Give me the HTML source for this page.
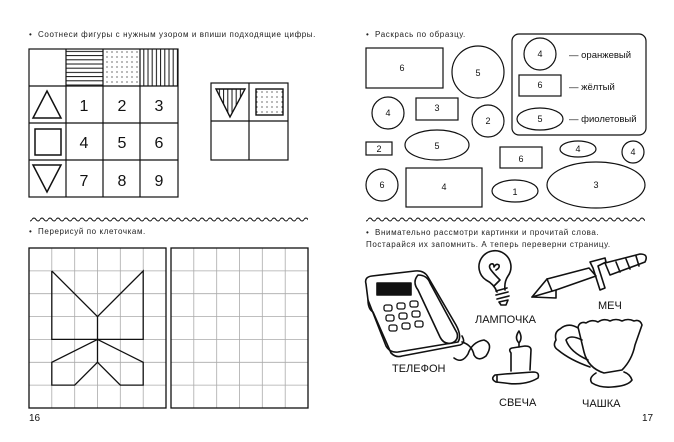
<!DOCTYPE html>
<html><head><meta charset="utf-8"><style>
html,body{margin:0;padding:0;background:#fff;}
svg{display:block;font-family:"Liberation Sans",sans-serif;}
.t{font-size:8px;letter-spacing:0.6px;fill:#222;}
.n{font-size:16px;fill:#111;text-anchor:middle;}
.s{font-size:9px;fill:#111;text-anchor:middle;}
.l{font-size:9.5px;fill:#111;}
.w{font-size:11px;fill:#111;}
</style></head><body>
<svg width="674" height="442" viewBox="0 0 674 442" xmlns="http://www.w3.org/2000/svg">
<defs>
<pattern id="wave" width="8" height="6" patternUnits="userSpaceOnUse"><path d="M0 3.5 Q2 0.5 4 3.5 T8 3.5" fill="none" stroke="#111" stroke-width="1.1"/></pattern>
<pattern id="hz" width="4" height="4.2" patternUnits="userSpaceOnUse"><line x1="0" y1="1" x2="4" y2="1" stroke="#111" stroke-width="1"/></pattern>
<pattern id="vt" width="4.2" height="4" patternUnits="userSpaceOnUse"><line x1="1" y1="0" x2="1" y2="4" stroke="#111" stroke-width="1"/></pattern>
<pattern id="dt" width="5" height="5" patternUnits="userSpaceOnUse"><circle cx="2" cy="2" r="0.6" fill="#111"/></pattern>
</defs>
<rect width="674" height="442" fill="#fff"/>

<text class="t" x="29" y="37">•&#160;&#160;Соотнеси фигуры с нужным узором и впиши подходящие цифры.</text>
<rect x="66" y="49" width="37" height="37" fill="url(#hz)"/>
<rect x="103" y="49" width="37" height="37" fill="url(#dt)"/>
<rect x="140" y="49" width="38" height="37" fill="url(#vt)"/>
<g stroke="#111" stroke-width="1.2" fill="none">
<rect x="29" y="49" width="149" height="148"/>
<line x1="66" y1="49" x2="66" y2="197"/><line x1="103" y1="49" x2="103" y2="197"/><line x1="140" y1="49" x2="140" y2="197"/>
<line x1="29" y1="86" x2="178" y2="86"/><line x1="29" y1="123" x2="178" y2="123"/><line x1="29" y1="160" x2="178" y2="160"/>
<polygon points="47,91 61,118 33,118" stroke-width="1.5"/>
<rect x="35" y="129" width="26" height="26" stroke-width="1.5"/>
<polygon points="33,165 61,165 47,192" stroke-width="1.5"/>
</g>
<text class="n" x="84" y="111">1</text><text class="n" x="122" y="111">2</text><text class="n" x="159" y="111">3</text>
<text class="n" x="84" y="148">4</text><text class="n" x="122" y="148">5</text><text class="n" x="159" y="148">6</text>
<text class="n" x="84" y="186">7</text><text class="n" x="122" y="186">8</text><text class="n" x="159" y="186">9</text>
<polygon points="216,89 245,89 230,117" fill="url(#vt)"/>
<rect x="256" y="89" width="27" height="26" fill="url(#dt)"/>
<g stroke="#111" stroke-width="1.2" fill="none">
<rect x="211" y="83" width="77" height="77"/>
<line x1="249" y1="83" x2="249" y2="160"/><line x1="211" y1="121" x2="288" y2="121"/>
<polygon points="216,89 245,89 230,117" stroke-width="1.4"/>
<rect x="256" y="89" width="27" height="26" stroke-width="1.4"/>
</g>
<rect x="30" y="216" width="278" height="6" fill="url(#wave)"/>

<text class="t" x="366" y="37">•&#160;&#160;Раскрась по образцу.</text>
<g stroke="#111" stroke-width="1.2" fill="none">
<rect x="512" y="34" width="134" height="101" rx="7"/>
<rect x="366" y="48" width="77" height="40"/>
<circle cx="478" cy="72" r="26"/>
<circle cx="388" cy="113" r="16"/>
<rect x="416" y="98" width="42" height="22"/>
<circle cx="488" cy="121" r="16"/>
<circle cx="540" cy="54" r="16"/>
<rect x="519" y="75" width="42" height="21"/>
<ellipse cx="540" cy="119" rx="23" ry="11"/>
<rect x="366" y="142" width="26" height="13"/>
<ellipse cx="437" cy="145" rx="32" ry="15"/>
<rect x="500" y="147" width="42" height="21"/>
<ellipse cx="578" cy="149" rx="18" ry="8"/>
<circle cx="633" cy="152" r="11"/>
<circle cx="382" cy="185" r="16"/>
<rect x="406" y="168" width="76" height="39"/>
<ellipse cx="515" cy="191" rx="23" ry="11"/>
<ellipse cx="596" cy="185" rx="49" ry="23"/>
</g>
<text class="s" x="402" y="71">6</text><text class="s" x="478" y="76">5</text>
<text class="s" x="388" y="116">4</text><text class="s" x="437" y="111">3</text><text class="s" x="488" y="124">2</text>
<text class="s" x="540" y="57">4</text><text class="s" x="540" y="88">6</text><text class="s" x="540" y="122">5</text>
<text class="l" x="569" y="58">— оранжевый</text><text class="l" x="569" y="90">— жёлтый</text><text class="l" x="569" y="122">— фиолетовый</text>
<text class="s" x="379" y="152">2</text><text class="s" x="437" y="149">5</text><text class="s" x="521" y="162">6</text>
<text class="s" x="578" y="152">4</text><text class="s" x="633" y="155">4</text>
<text class="s" x="382" y="188">6</text><text class="s" x="444" y="190">4</text><text class="s" x="515" y="195">1</text><text class="s" x="596" y="188">3</text>
<rect x="366" y="216" width="279" height="6" fill="url(#wave)"/>

<text class="t" x="29" y="234">•&#160;&#160;Перерисуй по клеточкам.</text>
<g stroke="#aaa" stroke-width="0.8">
<line x1="51.8" y1="248" x2="51.8" y2="408"/><line x1="74.7" y1="248" x2="74.7" y2="408"/><line x1="97.5" y1="248" x2="97.5" y2="408"/><line x1="120.3" y1="248" x2="120.3" y2="408"/><line x1="143.2" y1="248" x2="143.2" y2="408"/>
<line x1="193.8" y1="248" x2="193.8" y2="408"/><line x1="216.7" y1="248" x2="216.7" y2="408"/><line x1="239.5" y1="248" x2="239.5" y2="408"/><line x1="262.3" y1="248" x2="262.3" y2="408"/><line x1="285.2" y1="248" x2="285.2" y2="408"/>
<line x1="29" y1="270.9" x2="308" y2="270.9"/><line x1="29" y1="293.7" x2="308" y2="293.7"/><line x1="29" y1="316.6" x2="308" y2="316.6"/><line x1="29" y1="339.4" x2="308" y2="339.4"/><line x1="29" y1="362.3" x2="308" y2="362.3"/><line x1="29" y1="385.1" x2="308" y2="385.1"/>
</g>
<rect x="166" y="247" width="5" height="162" fill="#fff"/>
<g stroke="#111" stroke-width="1.3" fill="none">
<rect x="29" y="248" width="137" height="160"/>
<rect x="171" y="248" width="137" height="160"/>
<polyline points="51.8,270.9 51.8,339.4 143.2,339.4 143.2,270.9 97.5,316.6 51.8,270.9"/>
<line x1="97.5" y1="316.6" x2="97.5" y2="362.3"/>
<polyline points="97.5,339.4 51.8,362.3 51.8,385.1 74.7,385.1 97.5,362.3 120.3,385.1 143.2,385.1 143.2,362.3 97.5,339.4"/>
</g>
<text class="w" x="29" y="421" style="font-size:10px">16</text>
<text class="w" x="642" y="421" style="font-size:10px">17</text>

<text class="t" x="366" y="235">•&#160;&#160;Внимательно рассмотри картинки и прочитай слова.</text>
<text class="t" x="366" y="247">Постарайся их запомнить. А теперь переверни страницу.</text>
<g stroke="#111" stroke-width="1.6" fill="none" stroke-linejoin="round" stroke-linecap="round">
<path d="M366,284 Q364,277 372,276 L415,271 Q424,270 428,277 L456,325 Q462,336 458,342 L398,352 Q390,353 386,346 L368,300 Z"/>
<path d="M368,300 Q368,309 373,312 L391,353 Q396,358 402,356 L460,345 Q466,343 462,336"/>
<path d="M418,275 Q412,282 418,290 L440,337 Q444,345 452,343 Q459,340 457,333 L430,283 Q427,275 418,275 Z"/>
<path d="M462,342 Q472,345 474,355 Q478,362 486,356 Q494,344 484,340 Q472,342 468,354 Q462,364 454,358"/>
<rect x="377" y="283" width="34" height="12" fill="#111"/>
<g stroke-width="1.3">
<rect x="384" y="305" width="8" height="6" rx="2"/><rect x="397" y="303" width="8" height="6" rx="2"/><rect x="410" y="301" width="8" height="6" rx="2"/>
<rect x="386" y="315" width="8" height="6" rx="2"/><rect x="399" y="313" width="8" height="6" rx="2"/><rect x="412" y="311" width="8" height="6" rx="2"/>
<rect x="389" y="325" width="8" height="6" rx="2"/><rect x="402" y="323" width="8" height="6" rx="2"/><rect x="415" y="321" width="8" height="6" rx="2"/>
</g>
<!-- bulb -->
<path d="M497,292 Q494,284 486,280 A16,16 0 1 1 508,276 Q504,282 505,290"/>
<path d="M494,286 L500,280 Q494,274 491,270 Q488,266 491,264 Q494,263 494,267 Q496,263 499,265 Q500,268 496,270"/>
<path d="M496,291 L507,288 M496,295 L508,292 M497,299 L509,296 M499,302 L508,300 L506,305 L501,305 Z"/>
<!-- sword -->
<path d="M532,297 L547,279 L589,268 L596,276 L556,290 Z"/>
<path d="M547,279 L552,291 M556,290 L556,298 L532,297"/>
<path d="M590,262 L605,258 L606,262 L598,266 L605,288 L600,290 L593,268 Z"/>
<path d="M605,263 L640,254 Q649,254 645,262 L610,275 Z"/>
<path d="M616,262 L620,272 M626,259 L630,269 M636,256 L639,266"/>
<!-- cup -->
<path d="M578,327 Q580,321 586,323 Q592,319 598,322 Q604,318 610,321 Q616,318 622,321 Q628,318 634,321 Q640,319 642,325 L635,345 Q632,360 622,370 L604,373 Q588,368 584,352 Z"/>
<path d="M578,328 Q568,322 560,329 Q554,332 556,340 Q552,346 558,350 Q570,360 590,367 M582,340 Q570,334 566,340 Q570,352 588,360"/>
<path d="M596,373 Q588,378 592,383 Q600,388 612,387 Q628,386 632,380 Q630,374 624,372"/>
<!-- candle -->
<path d="M511,371 L511,353 Q508,349 512,348 L525,346 Q531,346 531,350 L530,370"/>
<path d="M519,347 L519,343 M519,343 Q514,338 519,331 Q523,338 519,343"/>
<path d="M495,375 Q490,379 496,382 L505,383 Q525,386 538,378 Q540,372 533,372 L505,374 Z"/>
<path d="M497,376 L497,382"/>
</g>
<text class="w" x="392" y="372">ТЕЛЕФОН</text>
<text class="w" x="475" y="323">ЛАМПОЧКА</text>
<text class="w" x="598" y="309">МЕЧ</text>
<text class="w" x="499" y="406">СВЕЧА</text>
<text class="w" x="582" y="407">ЧАШКА</text>
</svg>
</body></html>
